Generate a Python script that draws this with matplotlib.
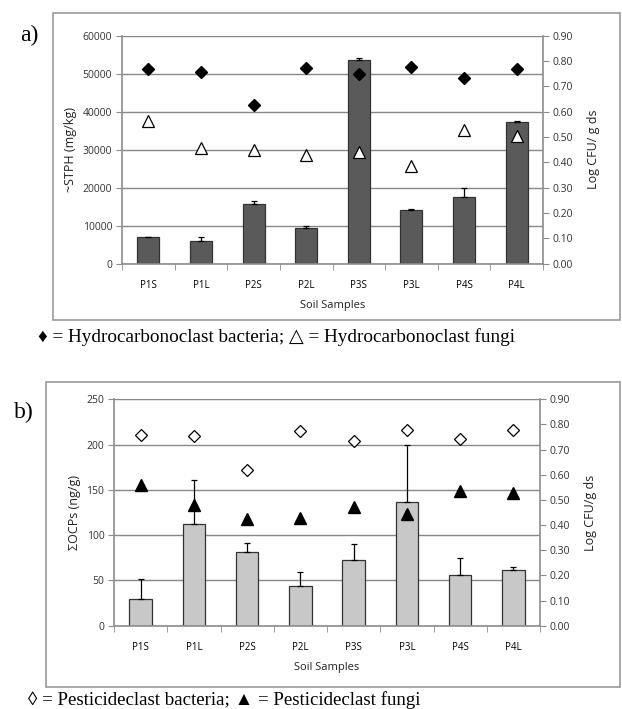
import matplotlib
matplotlib.use("Agg")
import matplotlib.pyplot as plt
import numpy as np
from matplotlib.patches import Rectangle

samples = ["P1S", "P1L", "P2S", "P2L", "P3S", "P3L", "P4S", "P4L"]

# Panel a
stph = [7000, 6000, 15800, 9400, 53500, 14000, 17500, 37300]
stph_err = [0, 1000, 700, 600, 700, 400, 2500, 300]
hc_bacteria = [0.77, 0.755, 0.627, 0.771, 0.75, 0.778, 0.732, 0.770]
hc_fungi = [0.562, 0.458, 0.45, 0.428, 0.44, 0.387, 0.529, 0.505]

# Panel b
ocps = [30, 112, 81, 44, 72, 137, 56, 61]
ocps_err = [22, 49, 10, 15, 18, 63, 19, 4]
pc_bacteria = [0.760, 0.756, 0.620, 0.774, 0.734, 0.778, 0.742, 0.776]
pc_fungi = [0.558, 0.480, 0.425, 0.428, 0.470, 0.445, 0.535, 0.528]

W, H = 622, 709
fig = plt.figure(figsize=(W / 100, H / 100), dpi=100)
fig.patch.set_facecolor("white")

tick_font = ["Open Sans", "DejaVu Sans"]
serif = ["Liberation Serif", "DejaVu Serif", "DejaVu Sans"]
GRAY = "#8c8c8c"


def px_axes(l, t, r, b):
    return fig.add_axes([l / W, 1 - b / H, (r - l) / W, (b - t) / H])


def box(l, t, r, b):
    fig.add_artist(Rectangle((l / W, 1 - b / H), (r - l) / W, (b - t) / H,
                             transform=fig.transFigure, fill=False,
                             edgecolor="#9a9a9a", linewidth=1.2))


def panel(ax, bars, errs, ymax, ystep, ylabel, rlabel, barcolor, bact, fungi,
          bact_kw, fungi_kw):
    x = np.arange(len(samples))
    ax.set_xlim(-0.5, len(samples) - 0.5)
    ax.set_ylim(0, ymax)
    ax.set_yticks(np.arange(0, ymax + ystep / 2, ystep))
    ax.yaxis.grid(True, color="#888888", linewidth=1.0)
    ax.set_axisbelow(True)
    ax.bar(x, bars, width=0.42, color=barcolor, edgecolor="#333333",
           linewidth=0.9, zorder=2)
    ax.errorbar(x, bars, yerr=[np.zeros(len(errs)), errs], fmt="none",
                ecolor="black", elinewidth=0.9, capsize=2.5, capthick=0.9,
                zorder=3)
    ax.set_xticks(x)
    ax.set_xticklabels(samples, fontsize=7, family=tick_font)
    ax.set_xticks(np.arange(-0.5, len(samples), 1), minor=True)
    ax.tick_params(axis="x", which="major", length=0, pad=12)
    ax.tick_params(axis="x", which="minor", length=4, color=GRAY,
                   direction="out")
    ax.tick_params(axis="y", length=4, color=GRAY, labelsize=7.5,
                   labelcolor="#333333", pad=3)
    for lab in ax.get_yticklabels():
        lab.set_family(tick_font)
    for s in ["top", "right"]:
        ax.spines[s].set_visible(False)
    for s in ["left", "bottom"]:
        ax.spines[s].set_color(GRAY)
        ax.spines[s].set_linewidth(1.2)
    ax.set_xlabel("Soil Samples", fontsize=8, family=tick_font, labelpad=6,
                  color="#222222")
    ax.set_ylabel(ylabel, fontsize=9, family=tick_font, labelpad=4,
                  color="#222222")

    ax2 = ax.twinx()
    ax2.set_ylim(0, 0.9)
    ax2.set_yticks(np.arange(0, 0.91, 0.1))
    ax2.set_yticklabels([f"{v:.2f}" for v in np.arange(0, 0.91, 0.1)],
                        fontsize=7.5, family=tick_font, color="#333333")
    ax2.tick_params(axis="y", length=4, color=GRAY, pad=3)
    for s in ["top", "left", "bottom"]:
        ax2.spines[s].set_visible(False)
    ax2.spines["right"].set_color(GRAY)
    ax2.spines["right"].set_linewidth(1.2)
    ax2.set_ylabel(rlabel, fontsize=9, family=tick_font, labelpad=10,
                   color="#222222")
    ax2.plot(x, bact, linestyle="none", zorder=4, **bact_kw)
    ax2.plot(x, fungi, linestyle="none", zorder=4, **fungi_kw)
    return ax2


# ---- Panel a ----
box(53, 13, 620, 320)
axa = px_axes(122, 35.7, 543, 263.7)
panel(axa, stph, stph_err, 60000, 10000, "~STPH (mg/kg)", "Log CFU/ g ds",
      "#5a5a5a", hc_bacteria, hc_fungi,
      dict(marker="D", markersize=6, markerfacecolor="black",
           markeredgecolor="black"),
      dict(marker="^", markersize=8, markerfacecolor="white",
           markeredgecolor="black", markeredgewidth=0.9))
fig.text(20 / W, 1 - 35 / H, "a)", fontsize=17, family=serif, va="center")
fig.text(38 / W, 1 - 337 / H,
         "\u2666 = Hydrocarbonoclast bacteria; \u25b3 = Hydrocarbonoclast fungi",
         fontsize=13.8, family=serif, va="center")

# ---- Panel b ----
box(46, 382, 620, 687)
axb = px_axes(114, 399.3, 540, 625.7)
panel(axb, ocps, ocps_err, 250, 50, "\u03a3OCPs (ng/g)", "Log CFU/g ds",
      "#c8c8c8", pc_bacteria, pc_fungi,
      dict(marker="D", markersize=6, markerfacecolor="white",
           markeredgecolor="black", markeredgewidth=0.9),
      dict(marker="^", markersize=8, markerfacecolor="black",
           markeredgecolor="black"))
fig.text(14 / W, 1 - 412 / H, "b)", fontsize=17, family=serif, va="center")
fig.text(28 / W, 1 - 700 / H,
         "\u25ca = Pesticideclast bacteria; \u25b2 = Pesticideclast fungi",
         fontsize=13.6, family=serif, va="center")

fig.savefig("out.png", dpi=100, facecolor="white")
